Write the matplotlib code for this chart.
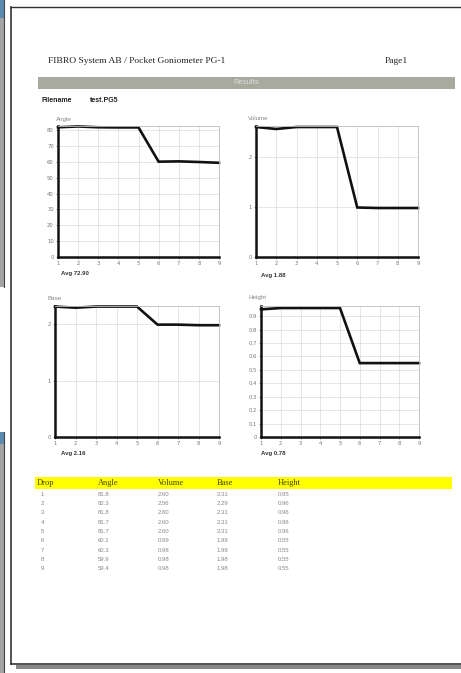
import matplotlib
matplotlib.use("Agg")
import matplotlib.pyplot as plt
from matplotlib.patches import Rectangle

W, H = 461, 673

drops = [1, 2, 3, 4, 5, 6, 7, 8, 9]
angle = [81.8, 82.3, 81.8, 81.7, 81.7, 60.1, 60.3, 59.9, 59.4]
volume = [2.60, 2.56, 2.60, 2.60, 2.60, 0.99, 0.98, 0.98, 0.98]
base = [2.31, 2.29, 2.31, 2.31, 2.31, 1.99, 1.99, 1.98, 1.98]
height = [0.95, 0.96, 0.96, 0.96, 0.96, 0.55, 0.55, 0.55, 0.55]

angle_ticks = [0, 10, 20, 30, 40, 50, 60, 70, 80]
volume_ticks = [0, 1, 2]
base_ticks = [0, 1, 2]
height_ticks = [0, 0.1, 0.2, 0.3, 0.4, 0.5, 0.6, 0.7, 0.8, 0.9]
height_tick_labels = ["0", "0.1", "0.2", "0.3", "0.4", "0.5", "0.6", "0.7", "0.8", "0.9"]

avg_labels = ["Avg 72.90", "Avg 1.88", "Avg 2.16", "Avg 0.78"]
titles = ["Angle", "Volume", "Base", "Height"]
col_names = ["Drop", "Angle", "Volume", "Base", "Height"]

fig = plt.figure(figsize=(W / 100, H / 100), dpi=100)
fig.patch.set_facecolor("white")

def rect(l, t, r, b):
    return [l / W, 1 - b / H, (r - l) / W, (b - t) / H]

# background / page frame
bg = fig.add_axes([0, 0, 1, 1])
bg.set_xlim(0, W)
bg.set_ylim(H, 0)
bg.axis("off")
bg.add_patch(Rectangle((0, 0), 3.5, 287, facecolor="#a4a4a4", edgecolor="none"))
bg.add_patch(Rectangle((0, 0), 3.5, 18, facecolor="#5a8ab0", edgecolor="none"))
bg.plot([4, 4], [0, 287], color="#444444", lw=0.8)
bg.add_patch(Rectangle((0, 432), 3.5, 241, facecolor="#a4a4a4", edgecolor="none"))
bg.add_patch(Rectangle((0, 432), 3.5, 12, facecolor="#5a8ab0", edgecolor="none"))
bg.plot([4, 4], [432, 673], color="#444444", lw=0.8)
bg.plot([10.5, 10.5], [7, 664], color="#333333", lw=1.2)
bg.plot([10.5, W], [7, 7], color="#333333", lw=1.0)
bg.plot([10.5, W], [664, 664], color="#333333", lw=1.2)
bg.add_patch(Rectangle((16, 665), W - 16, 4, facecolor="#888888", edgecolor="none"))

# header
fig.text(48 / W, 1 - 61 / H, "FIBRO System AB / Pocket Goniometer PG-1",
         family="Liberation Serif", fontsize=6.8, color="#222222", va="center")
fig.text(385 / W, 1 - 61 / H, "Page1", family="Liberation Serif",
         fontsize=6.8, color="#222222", va="center")
bg.add_patch(Rectangle((38, 77), 417, 12, facecolor="#a9aa9e", edgecolor="none"))
fig.text(246 / W, 1 - 83 / H, "Results", family="Liberation Sans",
         fontsize=5.5, color="#dddddd", ha="center", va="center")
fig.text(41 / W, 1 - 101 / H, "Filename", family="Liberation Sans",
         fontsize=5, weight="bold", color="#222222", va="center")
fig.text(90 / W, 1 - 101 / H, "test.PG5", family="Liberation Sans",
         fontsize=5, weight="bold", color="#222222", va="center")

charts = [
    (angle, angle_ticks, [str(t) for t in angle_ticks], 82.6, (58, 126, 219, 257), (56, 119), (61, 273)),
    (volume, volume_ticks, [str(t) for t in volume_ticks], 2.62, (256, 126, 418, 257), (248, 119), (261, 276)),
    (base, base_ticks, [str(t) for t in base_ticks], 2.32, (55, 306, 219, 437), (47, 298), (61, 453)),
    (height, height_ticks, height_tick_labels, 0.975, (261, 306, 419, 437), (248, 298), (261, 453)),
]

for i, (vals, yt, ytl, ymax, box, tpos, apos) in enumerate(charts):
    ax = fig.add_axes(rect(*box))
    ax.plot(drops, vals, color="#111111", lw=1.9, solid_joinstyle="miter", clip_on=False)
    ax.set_xlim(1, 9)
    ax.set_ylim(0, ymax)
    ax.set_xticks(drops)
    ax.set_xticklabels([str(d) for d in drops])
    ax.set_yticks(yt)
    ax.set_yticklabels(ytl)
    ax.grid(True, color="#dcdcdc", lw=0.5)
    ax.set_axisbelow(True)
    ax.tick_params(labelsize=3.8, labelcolor="#777777", length=1.5, width=0.5,
                   color="#777777", pad=1.5)
    for s in ("top", "right"):
        ax.spines[s].set_color("#bbbbbb")
        ax.spines[s].set_linewidth(0.6)
    for s in ("left", "bottom"):
        ax.spines[s].set_color("#111111")
        ax.spines[s].set_linewidth(1.8)
    fig.text(tpos[0] / W, 1 - tpos[1] / H, titles[i], family="Liberation Sans",
             fontsize=4.5, color="#888888", va="center")
    fig.text(apos[0] / W, 1 - apos[1] / H, avg_labels[i], family="Liberation Sans",
             fontsize=4.3, weight="bold", color="#333333", va="center")

# table
bg.add_patch(Rectangle((35, 477), 417, 12, facecolor="#ffff00", edgecolor="none"))
col_x = [37, 98, 158, 217, 278]
for cx, name in zip(col_x, col_names):
    fig.text(cx / W, 1 - 483 / H, name, family="Liberation Serif", fontsize=6,
             color="#444400", va="center")

columns = [[str(d) for d in drops],
           [f"{v:.1f}" for v in angle],
           [f"{v:.2f}" for v in volume],
           [f"{v:.2f}" for v in base],
           [f"{v:.2f}" for v in height]]
data_x = [41, 98, 158, 217, 278]
for r in range(len(drops)):
    y = 494 + r * 9.35
    for c in range(5):
        fig.text(data_x[c] / W, 1 - y / H, columns[c][r], family="Liberation Sans",
                 fontsize=4.3, color="#888888", va="center")

fig.savefig("out.png", dpi=100)
